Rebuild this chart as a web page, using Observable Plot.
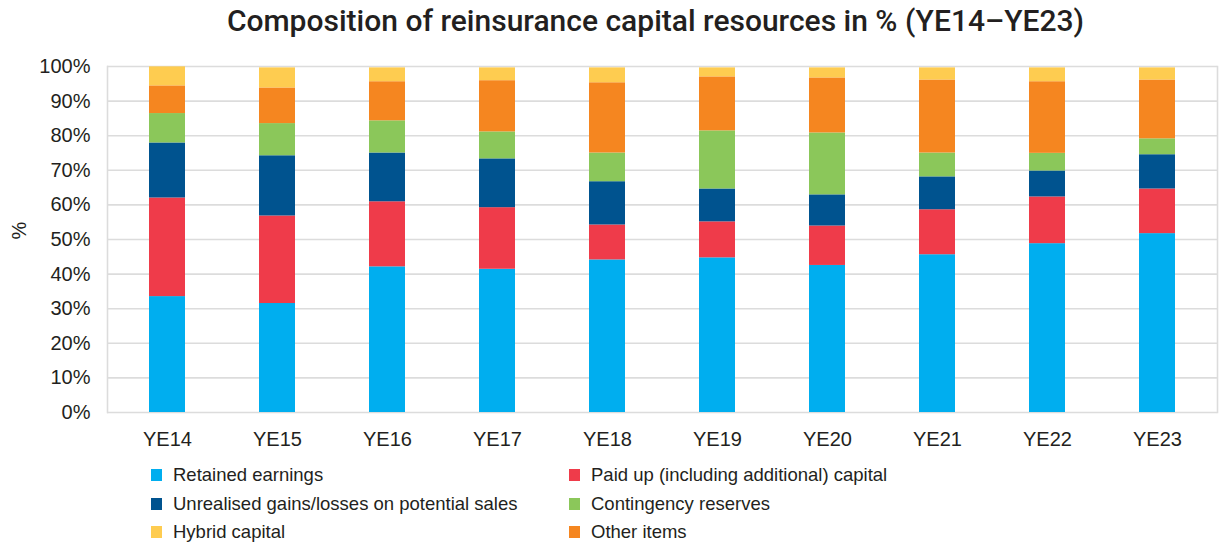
<!DOCTYPE html>
<html>
<head>
<meta charset="utf-8">
<script src="https://cdn.jsdelivr.net/npm/d3@7"></script>
<script src="https://cdn.jsdelivr.net/npm/@observablehq/plot@0.6"></script>
<style>
  html, body { margin: 0; padding: 0; background: #fff; }
  body { width: 1219px; height: 544px; position: relative; overflow: hidden; font-family: "Liberation Sans", Arial, sans-serif; color: #231f20; }
  #title { position: absolute; left: 46px; top: 0; width: 1219px; height: 42px; line-height: 42px; text-align: center; font-family: Roboto, "Liberation Sans", sans-serif; font-weight: 500; font-size: 30px; color: #231f20; }
  #chart { position: absolute; left: 0; top: 42px; }
  #legend { position: absolute; left: 151px; top: 461px; display: grid; grid-template-columns: 418px 400px; grid-auto-rows: 28.5px; font-size: 18.5px; color: #231f20; }
  .item { display: flex; align-items: center; white-space: nowrap; }
  .sw { width: 11px; height: 12px; margin-right: 11px; flex: none; }
</style>
</head>
<body>
<div id="title">Composition of reinsurance capital resources in % (YE14–YE23)</div>
<div id="chart"></div>
<div id="legend"></div>
<script>
const years = ["YE14","YE15","YE16","YE17","YE18","YE19","YE20","YE21","YE22","YE23"];
const seriesNames = [
  "Retained earnings",
  "Paid up (including additional) capital",
  "Unrealised gains/losses on potential sales",
  "Contingency reserves",
  "Other items",
  "Hybrid capital"
];
const seriesColors = ["#00aeef", "#ef3b4a", "#00538f", "#8bc75a", "#f58620", "#fecc50"];
const retained    = [33.5, 31.5, 42.1, 41.4, 44.1, 44.7, 42.5, 45.6, 48.8, 51.7];
const paidUp      = [28.5, 25.3, 18.8, 17.8, 10.1, 10.4, 11.4, 13.0, 13.5, 12.9];
const unrealised  = [15.9, 17.4, 14.1, 14.1, 12.5,  9.5,  9.0,  9.5,  7.5,  9.9];
const contingency = [ 8.5,  9.3,  9.3,  7.8,  8.3, 16.8, 17.9,  6.9,  5.1,  4.6];
const other       = [ 8.0, 10.3, 11.3, 14.8, 20.3, 15.6, 15.9, 21.1, 20.7, 17.0];
const hybrid      = [ 5.5,  5.8,  4.0,  3.7,  4.3,  2.6,  2.9,  3.5,  4.0,  3.5];
const yTicks = [0,10,20,30,40,50,60,70,80,90,100];
const legendOrder = [0, 1, 2, 3, 5, 4];

const seriesValues = [retained, paidUp, unrealised, contingency, other, hybrid];
const data = [];
years.forEach((y, i) => {
  seriesNames.forEach((s, j) => data.push({year: y, series: s, value: seriesValues[j][i]}));
});

const chart = Plot.plot({
  width: 1219,
  height: 416,
  marginTop: 24,
  marginBottom: 46,
  marginLeft: 107,
  marginRight: 2,
  style: {fontFamily: "'Liberation Sans', Arial, sans-serif", fontSize: "20px", color: "#231f20", background: "#fff"},
  x: {domain: years, paddingInner: 0.673, paddingOuter: 0.3365, insetLeft: 5, insetRight: 5, label: null},
  y: {domain: [0, 100], label: null},
  color: {domain: seriesNames, range: seriesColors},
  marks: [
    Plot.gridY(yTicks, {stroke: "#dcdcdc", strokeOpacity: 1, strokeWidth: 1.6}),
    Plot.frame({anchor: "left", stroke: "#dcdcdc", strokeWidth: 1.6}),
    Plot.frame({anchor: "right", stroke: "#dcdcdc", strokeWidth: 1.6}),
    Plot.barY(data, {x: "year", y: "value", fill: "series", order: seriesNames}),
    Plot.axisY(yTicks, {tickSize: 0, tickPadding: 17, tickFormat: d => d + "%", fontSize: 20, fill: "#231f20", label: null}),
    Plot.axisX(years, {tickSize: 0, tickPadding: 19, fontSize: 20, fill: "#231f20", label: null}),
    Plot.text(["%"], {frameAnchor: "left", dx: -88, rotate: -90, fontSize: 20, fill: "#231f20"})
  ]
});
document.getElementById("chart").appendChild(chart);

const legend = document.getElementById("legend");
legendOrder.forEach(j => {
  const item = document.createElement("div");
  item.className = "item";
  const sw = document.createElement("span");
  sw.className = "sw";
  sw.style.background = seriesColors[j];
  const tx = document.createElement("span");
  tx.textContent = seriesNames[j];
  item.appendChild(sw);
  item.appendChild(tx);
  legend.appendChild(item);
});
</script>
</body>
</html>
